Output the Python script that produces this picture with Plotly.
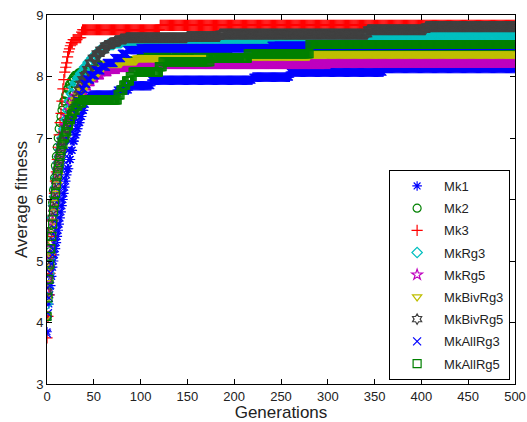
import plotly.graph_objects as go

# Generations axis
generations = list(range(0, 501))

# Change points (generation, value) of each best-so-far average fitness curve;
# the value is held until the next change point.
mk1_gen = [0,1,2,3,4,5,6,7,8,9,10,11,12,13,14,15,16,17,18,19,20,21,22,24,26,28,30,32,34,36,38,40,42,44,46,75,88,112,220,260,360]
mk1_val = [3.85,4.1,4.3,4.45,4.6,4.75,4.9,5.0,5.1,5.2,5.3,5.4,5.5,5.6,5.7,5.8,5.9,6.0,6.1,6.2,6.3,6.4,6.5,6.65,6.8,6.95,7.05,7.15,7.25,7.35,7.45,7.55,7.62,7.67,7.7,7.78,7.85,7.94,7.99,8.07,8.13]

mk2_gen = [0,1,2,3,4,5,6,7,8,9,10,11,12,13,14,15,16,17,18,20,22,24,26,28,30,34,40,55,75,100,130,153,195]
mk2_val = [4.1,4.5,4.85,5.15,5.45,5.7,5.95,6.15,6.35,6.55,6.7,6.85,7.0,7.15,7.25,7.35,7.45,7.52,7.6,7.7,7.8,7.87,7.93,7.98,8.02,8.06,8.1,8.18,8.25,8.32,8.38,8.43,8.47]

mk3_gen = [0,1,2,3,4,5,6,7,8,9,10,11,12,13,14,15,16,17,18,19,20,21,22,23,24,25,26,28,33,37,38,121]
mk3_val = [3.75,4.1,4.45,4.8,5.1,5.4,5.65,5.9,6.1,6.3,6.45,6.65,6.85,7.05,7.25,7.4,7.6,7.8,7.95,8.07,8.15,8.22,8.32,8.4,8.45,8.5,8.55,8.6,8.63,8.72,8.76,8.83]

mkrg3_gen = [0,1,2,3,4,5,6,7,8,9,10,11,12,13,14,15,16,18,20,22,24,26,28,30,33,36,40,44,48,52,56,60,65,72,80,185,343,480]
mkrg3_val = [4.3,4.55,4.8,5.05,5.3,5.5,5.7,5.9,6.05,6.2,6.35,6.5,6.6,6.7,6.8,6.9,7.0,7.15,7.3,7.45,7.6,7.72,7.82,7.9,7.98,8.05,8.15,8.23,8.3,8.36,8.42,8.47,8.52,8.55,8.57,8.6,8.64,8.67]

mkrg5_gen = [0,1,2,3,4,5,6,7,8,9,10,11,12,13,14,15,16,18,20,22,24,26,28,30,33,36,40,44,48,52,58,66,75,90,115,300]
mkrg5_val = [4.5,4.7,4.9,5.1,5.3,5.5,5.65,5.8,5.95,6.1,6.25,6.4,6.5,6.6,6.7,6.8,6.9,7.05,7.2,7.35,7.45,7.55,7.62,7.68,7.72,7.78,7.85,7.92,7.98,8.03,8.08,8.12,8.15,8.18,8.2,8.22]

mkbivrg3_gen = [0,1,2,3,4,5,6,7,8,9,10,11,12,13,14,15,16,18,20,22,24,26,28,30,33,36,40,44,48,52,56,60,64,80,96,215,281]
mkbivrg3_val = [4.1,4.4,4.65,4.9,5.1,5.3,5.5,5.65,5.8,5.95,6.1,6.25,6.4,6.5,6.6,6.7,6.8,6.95,7.1,7.25,7.35,7.45,7.55,7.62,7.7,7.78,7.88,7.95,8.0,8.06,8.12,8.17,8.21,8.25,8.3,8.33,8.36]

mkbivrg5_gen = [0,1,2,3,4,5,6,7,8,9,10,11,12,13,14,15,16,18,20,22,24,26,28,30,32,34,36,38,40,43,46,49,53,57,62,67,73,79,85,150,185,343,405]
mkbivrg5_val = [4.5,4.7,4.9,5.1,5.3,5.5,5.7,5.85,6.0,6.15,6.3,6.45,6.55,6.65,6.75,6.85,6.95,7.05,7.15,7.25,7.32,7.38,7.42,7.5,7.65,7.78,7.88,7.95,8.02,8.12,8.22,8.3,8.37,8.43,8.5,8.54,8.58,8.61,8.63,8.65,8.69,8.76,8.81]

mkallrg3_gen = [0,1,2,3,4,5,6,7,8,9,10,11,12,13,14,15,16,17,18,19,20,21,22,24,26,28,30,32,34,36,38,40,43,47,52,58,64,72,80,86,100,240]
mkallrg3_val = [3.82,4.15,4.4,4.6,4.8,4.95,5.1,5.2,5.3,5.4,5.5,5.6,5.7,5.8,5.9,6.0,6.1,6.2,6.35,6.5,6.6,6.7,6.8,6.95,7.1,7.25,7.4,7.5,7.6,7.7,7.8,7.88,7.95,8.02,8.1,8.16,8.22,8.3,8.37,8.43,8.46,8.5]

mkallrg5_gen = [0,1,2,3,4,5,6,7,8,9,10,11,12,13,14,15,16,18,20,22,24,26,28,31,34,38,76,79,82,85,89,92,120,124,175,215,281]
mkallrg5_val = [4.1,4.4,4.7,4.95,5.2,5.4,5.6,5.8,5.95,6.1,6.25,6.4,6.5,6.6,6.7,6.8,6.9,7.0,7.1,7.2,7.3,7.38,7.45,7.52,7.57,7.62,7.7,7.78,7.86,7.93,8.0,8.07,8.16,8.24,8.3,8.37,8.52]

names = ["Mk1", "Mk2", "Mk3", "MkRg3", "MkRg5", "MkBivRg3", "MkBivRg5", "MkAllRg3", "MkAllRg5"]
x_ticks = [0, 50, 100, 150, 200, 250, 300, 350, 400, 450, 500]
y_ticks = [3, 4, 5, 6, 7, 8, 9]

series = [
    (mk1_gen, mk1_val), (mk2_gen, mk2_val), (mk3_gen, mk3_val),
    (mkrg3_gen, mkrg3_val), (mkrg5_gen, mkrg5_val), (mkbivrg3_gen, mkbivrg3_val),
    (mkbivrg5_gen, mkbivrg5_val), (mkallrg3_gen, mkallrg3_val), (mkallrg5_gen, mkallrg5_val),
]
colors = ["#0000ff", "#008000", "#ff0000", "#00bfbf", "#bf00bf", "#bfbf00", "#404040", "#0000ff", "#008000"]
symbols = ["asterisk-open", "circle-open", "cross-thin-open", "diamond-open", "star-open",
           "triangle-down-open", "hexagram-open", "x-thin-open", "square-open"]


def hold(gens, vals):
    out = []
    j = 0
    for g in generations:
        while j + 1 < len(gens) and gens[j + 1] <= g:
            j += 1
        out.append(vals[j])
    return out


fig = go.Figure()
for i, (g, v) in enumerate(series):
    fig.add_trace(go.Scatter(
        x=generations, y=hold(g, v), mode="markers", name=names[i],
        legendgroup=names[i],
        marker=dict(symbol=symbols[i], size=8, color=colors[i],
                    line=dict(width=1.2, color=colors[i])),
    ))

axis_common = dict(showline=True, linecolor="black", linewidth=1, mirror="ticks",
                   ticks="inside", ticklen=5, tickcolor="black", showgrid=False,
                   zeroline=False, automargin=False, ticklabeloverflow="allow",
                   tickfont=dict(size=13, color="#222"))

fig.update_layout(
    width=527, height=422,
    margin=dict(l=47, r=12, t=15, b=38),
    paper_bgcolor="white", plot_bgcolor="white",
    font=dict(family="Liberation Sans, Arial, sans-serif", color="#222"),
    xaxis=dict(range=[0, 500], tickvals=x_ticks,
               title=dict(text="Generations", font=dict(size=17), standoff=0),
               **axis_common),
    yaxis=dict(range=[3, 9], tickvals=y_ticks,
               title=dict(text="Average fitness", font=dict(size=17), standoff=4),
               **axis_common),
    legend=dict(x=0.731, y=0.58, xanchor="left", yanchor="top",
                bgcolor="white", bordercolor="black", borderwidth=1,
                font=dict(size=13), itemwidth=44, tracegroupgap=2.3),
    showlegend=True,
)

fig.write_html("out.html", config={"displayModeBar": False},
               post_script="document.body.style.margin='0px';document.body.style.overflow='hidden';")
